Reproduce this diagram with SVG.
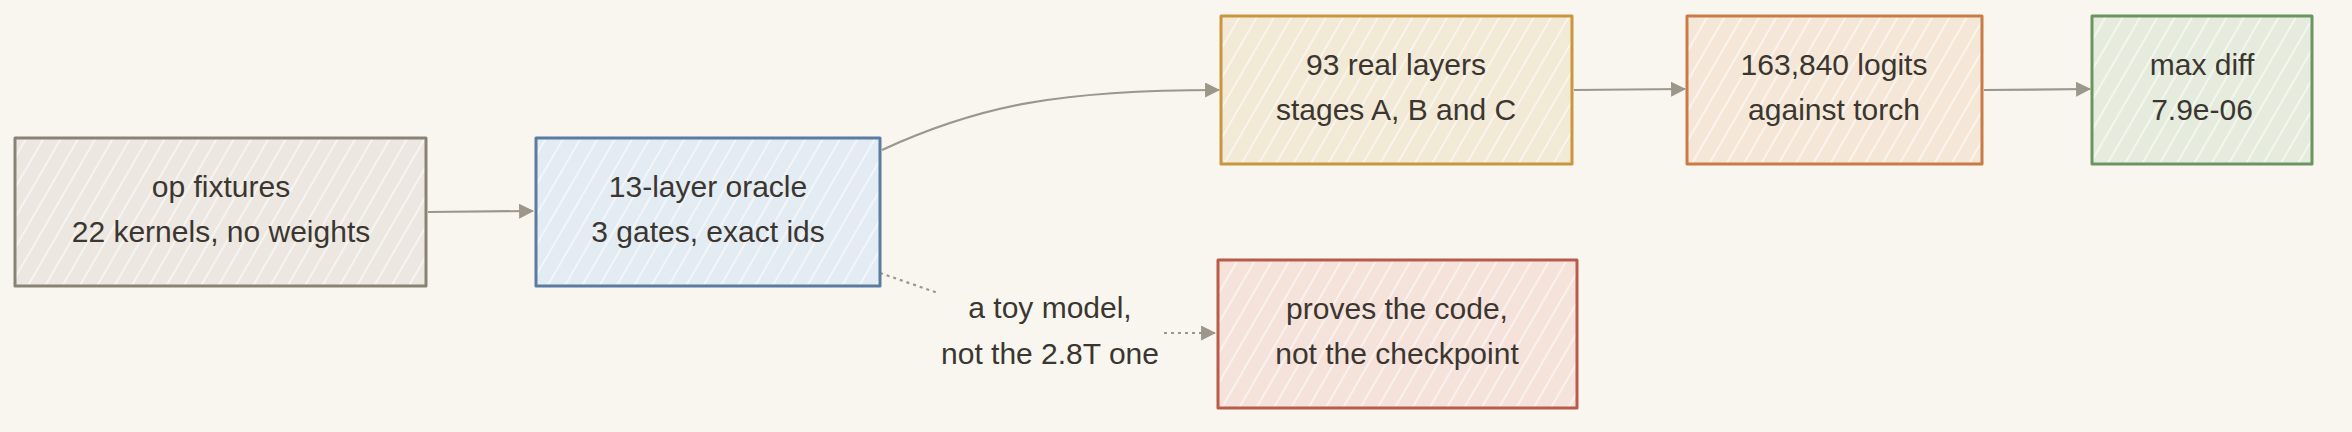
<svg xmlns="http://www.w3.org/2000/svg" width="2352" height="432" viewBox="0 0 2352 432">
<style>
.t{font-family:"Liberation Sans","DejaVu Sans",sans-serif;font-size:30px;fill:#3b3630;text-anchor:middle}
.b{stroke-width:3;stroke-linejoin:round}
.c{fill:none;stroke:#9c968b;stroke-width:2.2}
.d{fill:none;stroke:#9c968b;stroke-width:2.2;stroke-dasharray:3 4}
</style>
<defs>
<pattern id="hatch" width="15" height="15" patternUnits="userSpaceOnUse" patternTransform="rotate(30)">
<line x1="2" y1="0" x2="2" y2="15" stroke="#ffffff" stroke-opacity="0.7" stroke-width="1.5"/>
</pattern>
<marker id="ah" viewBox="0 0 14 14" refX="13" refY="7" markerWidth="15" markerHeight="15" markerUnits="userSpaceOnUse" orient="auto">
<path d="M0,0 L14,7 L0,14 Z" fill="#9c968b"/>
</marker>
</defs>
<rect width="2352" height="432" fill="#f9f6f0"/>
<g id="connectors">
<path class="c" d="M428 212 L533 211" marker-end="url(#ah)"/>
<path class="c" d="M882 150 C980 105 1060 90 1219 90" marker-end="url(#ah)"/>
<path class="c" d="M1574 90 L1685 89" marker-end="url(#ah)"/>
<path class="c" d="M1984 90 L2090 89" marker-end="url(#ah)"/>
<path class="d" d="M880 273 L938 293"/>
<path class="d" d="M1164 333 L1215 333" marker-end="url(#ah)"/>
<text class="t" x="1050" y="318">a toy model,</text>
<text class="t" x="1050" y="364">not the 2.8T one</text>
</g>
<g id="op-fixtures">
<rect x="15" y="138" width="411" height="148" fill="#ece8e1"/>
<rect x="15" y="138" width="411" height="148" fill="url(#hatch)"/>
<rect class="b" x="15" y="138" width="411" height="148" fill="none" stroke="#8a8274"/>
<text class="t" x="221" y="197">op fixtures</text>
<text class="t" x="221" y="242">22 kernels, no weights</text>
</g>
<g id="oracle">
<rect x="536" y="138" width="344" height="148" fill="#e3ebf3"/>
<rect x="536" y="138" width="344" height="148" fill="url(#hatch)"/>
<rect class="b" x="536" y="138" width="344" height="148" fill="none" stroke="#5b7ba1"/>
<text class="t" x="708" y="197">13-layer oracle</text>
<text class="t" x="708" y="242">3 gates, exact ids</text>
</g>
<g id="real-layers">
<rect x="1221" y="16" width="351" height="148" fill="#f2e9d6"/>
<rect x="1221" y="16" width="351" height="148" fill="url(#hatch)"/>
<rect class="b" x="1221" y="16" width="351" height="148" fill="none" stroke="#c9953d"/>
<text class="t" x="1396" y="75">93 real layers</text>
<text class="t" x="1396" y="120">stages A, B and C</text>
</g>
<g id="logits">
<rect x="1687" y="16" width="295" height="148" fill="#f5e7d7"/>
<rect x="1687" y="16" width="295" height="148" fill="url(#hatch)"/>
<rect class="b" x="1687" y="16" width="295" height="148" fill="none" stroke="#c97b46"/>
<text class="t" x="1834" y="75">163,840 logits</text>
<text class="t" x="1834" y="120">against torch</text>
</g>
<g id="max-diff">
<rect x="2092" y="16" width="220" height="148" fill="#e6ecdd"/>
<rect x="2092" y="16" width="220" height="148" fill="url(#hatch)"/>
<rect class="b" x="2092" y="16" width="220" height="148" fill="none" stroke="#6a9461"/>
<text class="t" x="2202" y="75">max diff</text>
<text class="t" x="2202" y="120">7.9e-06</text>
</g>
<g id="checkpoint">
<rect x="1218" y="260" width="359" height="148" fill="#f5e2db"/>
<rect x="1218" y="260" width="359" height="148" fill="url(#hatch)"/>
<rect class="b" x="1218" y="260" width="359" height="148" fill="none" stroke="#b95b49"/>
<text class="t" x="1397" y="319">proves the code,</text>
<text class="t" x="1397" y="364">not the checkpoint</text>
</g>
</svg>
